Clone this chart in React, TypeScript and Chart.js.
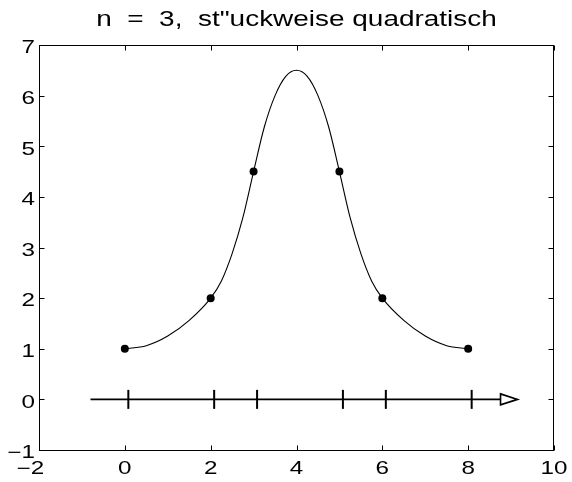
import React, { useEffect, useRef } from 'react';
import { Chart, registerables } from 'chart.js';

Chart.register(...registerables);

// Interpolation nodes and their values
const knots = [0, 2, 3, 5, 6, 8];
const knotValues = [1, 2, 4.5, 4.5, 2, 1];

// Piecewise quadratic interpolant, sampled along x
const curveX = [0, 0.5, 1, 1.5, 2, 2.25, 2.5, 2.75, 3, 3.25, 3.5, 3.75, 4, 4.25, 4.5, 4.75, 5, 5.25, 5.5, 5.75, 6, 6.5, 7, 7.5, 8];
const curveY = [1, 1.06, 1.25, 1.56, 2, 2.34, 2.88, 3.59, 4.5, 5.38, 6.0, 6.38, 6.5, 6.38, 6.0, 5.38, 4.5, 3.59, 2.88, 2.34, 2, 1.56, 1.25, 1.06, 1];

// Axis ticks
const xTicks = [-2, 0, 2, 4, 6, 8, 10];
const yTicks = [-1, 0, 1, 2, 3, 4, 5, 6, 7];

// Number line with node marks (x range in data units)
const arrowFrom = -0.8;
const arrowTo = 9.15;

const titleText = 'n  =  3,  st"uckweise quadratisch';

const FONT_FAMILY = '"Liberation Sans", Arial, Helvetica, sans-serif';
const TICK_STRETCH = 1.37;
const TITLE_STRETCH = 1.3;

const fmt = (v: number) => (v < 0 ? '\u2212' + Math.abs(v) : String(v));

function drawStretched(ctx: CanvasRenderingContext2D, text: string, left: number, baseline: number, s: number) {
  ctx.save();
  ctx.translate(left, baseline);
  ctx.scale(s, 1);
  ctx.textAlign = 'left';
  ctx.textBaseline = 'alphabetic';
  ctx.fillText(text, 0, 0);
  ctx.restore();
}

const width = (ctx: CanvasRenderingContext2D, t: string, s: number) => ctx.measureText(t).width * s;

const framePlugin = {
  id: 'matlabFrame',
  afterDatasetsDraw(chart: any) {
    const ctx: CanvasRenderingContext2D = chart.ctx;
    const { left, right, top, bottom } = chart.chartArea;
    const xs = chart.scales.x;
    const ys = chart.scales.y;
    const L = Math.round(left) + 0.5;
    const R = Math.round(right) - 0.5;
    const T = Math.round(top) + 0.5;
    const B = Math.round(bottom) + 0.5;

    ctx.save();
    // number line with node marks
    const y0 = ys.getPixelForValue(0);
    const tip = xs.getPixelForValue(arrowTo);
    const base = tip - 17;
    ctx.strokeStyle = '#000';
    ctx.lineWidth = 1.8;
    ctx.beginPath();
    ctx.moveTo(xs.getPixelForValue(arrowFrom), y0);
    ctx.lineTo(base, y0);
    ctx.stroke();
    ctx.lineWidth = 2;
    knots.forEach((k) => {
      const px = xs.getPixelForValue(k) + 3.5;
      ctx.beginPath();
      ctx.moveTo(px, y0 - 9.5);
      ctx.lineTo(px, y0 + 9.5);
      ctx.stroke();
    });
    ctx.lineWidth = 1.6;
    ctx.fillStyle = '#fff';
    ctx.beginPath();
    ctx.moveTo(base, y0 - 5.5);
    ctx.lineTo(tip, y0);
    ctx.lineTo(base, y0 + 5.5);
    ctx.closePath();
    ctx.fill();
    ctx.stroke();

    // axes box
    ctx.lineWidth = 1;
    ctx.strokeStyle = '#000';
    ctx.strokeRect(L, T, R - L, B - T);

    // inward ticks on all sides
    ctx.beginPath();
    xTicks.forEach((v) => {
      const px = Math.round(xs.getPixelForValue(v)) + 0.5;
      ctx.moveTo(px, B);
      ctx.lineTo(px, B - 5);
      ctx.moveTo(px, T);
      ctx.lineTo(px, T + 5);
    });
    yTicks.forEach((v) => {
      const py = Math.round(ys.getPixelForValue(v)) + 0.5;
      ctx.moveTo(L, py);
      ctx.lineTo(L + 5, py);
      ctx.moveTo(R, py);
      ctx.lineTo(R - 5, py);
    });
    ctx.stroke();

    // tick labels
    ctx.fillStyle = '#000';
    ctx.font = `17.7px ${FONT_FAMILY}`;
    xTicks.forEach((v) => {
      const px = xs.getPixelForValue(v);
      const digits = String(Math.abs(v));
      const dw = width(ctx, digits, TICK_STRETCH);
      if (v < 0) {
        const mw = width(ctx, '\u2212', TICK_STRETCH);
        drawStretched(ctx, fmt(v), px - 1.5 - dw / 2 - mw, bottom + 24, TICK_STRETCH);
      } else {
        drawStretched(ctx, digits, px - dw / 2, bottom + 24, TICK_STRETCH);
      }
    });
    yTicks.forEach((v) => {
      const py = ys.getPixelForValue(v);
      const t = fmt(v);
      drawStretched(ctx, t, left - 4 - width(ctx, t, TICK_STRETCH), py + 8.3, TICK_STRETCH);
    });

    // title
    ctx.font = `21.5px ${FONT_FAMILY}`;
    const tw = width(ctx, titleText, TITLE_STRETCH);
    drawStretched(ctx, titleText, (left + right) / 2 - tw / 2, 26, TITLE_STRETCH);
    ctx.restore();
  },
};

export default function App() {
  const canvasRef = useRef<HTMLCanvasElement | null>(null);

  useEffect(() => {
    const canvas = canvasRef.current;
    if (!canvas) return;
    const chart = new Chart(canvas, {
      type: 'line',
      data: {
        datasets: [
          {
            label: 'Knoten',
            data: knots.map((x, i) => ({ x, y: knotValues[i] })),
            showLine: false,
            pointRadius: 4,
            pointBackgroundColor: '#000',
            pointBorderWidth: 0,
          },
          {
            label: 'Interpolierende',
            data: curveX.map((x, i) => ({ x, y: curveY[i] })),
            borderColor: '#000',
            borderWidth: 1.1,
            pointRadius: 0,
            cubicInterpolationMode: 'monotone',
            fill: false,
          },
        ],
      },
      options: {
        animation: false,
        responsive: false,
        devicePixelRatio: 1,
        layout: { padding: { top: 45, right: 18, bottom: 0, left: 0 } },
        plugins: { legend: { display: false }, tooltip: { enabled: false }, title: { display: false } },
        events: [],
        scales: {
          x: {
            type: 'linear',
            min: -2,
            max: 10,
            grid: { display: false },
            border: { display: false },
            ticks: { display: false },
            afterFit: (s: any) => {
              s.height = 32;
            },
          },
          y: {
            type: 'linear',
            min: -1,
            max: 7,
            grid: { display: false },
            border: { display: false },
            ticks: { display: false },
            afterFit: (s: any) => {
              s.width = 39;
            },
          },
        },
      } as any,
      plugins: [framePlugin],
    });
    return () => chart.destroy();
  }, []);

  return (
    <div style={{ position: 'fixed', left: 0, top: 0, width: 572, height: 482, background: '#fff' }}>
      <canvas ref={canvasRef} width={572} height={482} style={{ display: 'block' }} />
    </div>
  );
}
